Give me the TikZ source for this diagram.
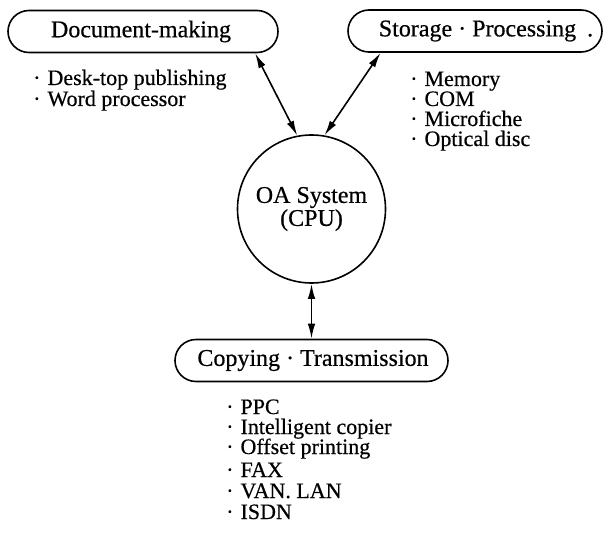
\documentclass[tikz,border=0pt]{standalone}
\usepackage{fontspec}
\setmainfont{Liberation Serif}[FakeBold=0.5]
\usetikzlibrary{arrows.meta}
\begin{document}
\begin{tikzpicture}[x=1pt,y=-1pt,
  box/.style={draw, line width=1.6pt, rounded corners=21pt, minimum height=42pt, inner sep=0pt},
  ttl/.style={font=\fontsize{24}{23}\selectfont, inner sep=0pt},
  item/.style={font=\fontsize{22}{21}\selectfont, inner sep=0pt, anchor=base west},
  link/.style={line width=1.6pt, {Latex[length=15pt,width=7.5pt]}-{Latex[length=15pt,width=7.5pt]}},
]
\useasboundingbox (0,0) rectangle (604,548);
% boxes
\node[box, minimum width=270pt] (doc) at (143,31.5) {};
\node[ttl] (doct) at (141,31.5) {Document-making};
\node[box, minimum width=254pt] (stor) at (475,31) {};
\node[ttl] (stort) at (486,31) {Storage · Processing\hspace{11pt}.};
\node[circle, draw, line width=1.6pt, minimum size=148pt, inner sep=0pt, align=center, ttl] (cpu) at (311.5,209) {OA System\\(CPU)};
\node[box, minimum width=273pt] (copy) at (311.5,360.5) {};
\node[ttl] (copyt) at (313,360.5) {Copying · Transmission};
% connectors
\draw[link] (doc.-11.5) -- (cpu.101);
\draw[link] (stor.193) -- (cpu.80);
\draw[link] (cpu.south) -- (copy.north);
% lists
\foreach \t [count=\i] in {Desk-top publishing, Word processor}
  \node[item] (d\i) at (33,85+21*\i-21) {·\hspace{7pt}\t};
\foreach \t [count=\i] in {Memory, COM, Microfiche, Optical disc}
  \node[item] (s\i) at (410,86+20*\i-20) {·\hspace{7pt}\t};
\foreach \t [count=\i] in {PPC, Intelligent copier, Offset printing}
  \node[item] (c\i) at (226,414+20*\i-20) {·\hspace{7pt}\t};
\foreach \t [count=\i] in {FAX, {VAN. LAN}, ISDN}
  \node[item] (f\i) at (226,477+21*\i-21) {·\hspace{7pt}\t};
\end{tikzpicture}
\end{document}
